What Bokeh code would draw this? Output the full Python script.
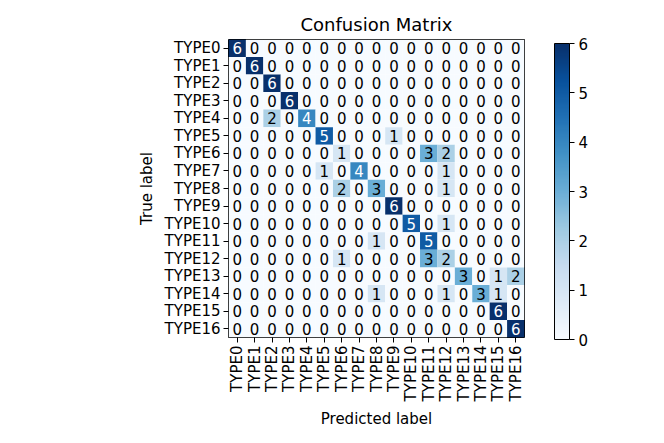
import math
from bokeh.plotting import figure
from bokeh.models import (Range1d, FixedTicker, LinearColorMapper, ColorBar,
                          ColumnDataSource)
from bokeh.palettes import Blues256
from bokeh.core.properties import value
from bokeh.embed import file_html
from bokeh.resources import INLINE

labels = ["TYPE%d" % i for i in range(17)]

row0 = [6, 0, 0, 0, 0, 0, 0, 0, 0, 0, 0, 0, 0, 0, 0, 0, 0]
row1 = [0, 6, 0, 0, 0, 0, 0, 0, 0, 0, 0, 0, 0, 0, 0, 0, 0]
row2 = [0, 0, 6, 0, 0, 0, 0, 0, 0, 0, 0, 0, 0, 0, 0, 0, 0]
row3 = [0, 0, 0, 6, 0, 0, 0, 0, 0, 0, 0, 0, 0, 0, 0, 0, 0]
row4 = [0, 0, 2, 0, 4, 0, 0, 0, 0, 0, 0, 0, 0, 0, 0, 0, 0]
row5 = [0, 0, 0, 0, 0, 5, 0, 0, 0, 1, 0, 0, 0, 0, 0, 0, 0]
row6 = [0, 0, 0, 0, 0, 0, 1, 0, 0, 0, 0, 3, 2, 0, 0, 0, 0]
row7 = [0, 0, 0, 0, 0, 1, 0, 4, 0, 0, 0, 0, 1, 0, 0, 0, 0]
row8 = [0, 0, 0, 0, 0, 0, 2, 0, 3, 0, 0, 0, 1, 0, 0, 0, 0]
row9 = [0, 0, 0, 0, 0, 0, 0, 0, 0, 6, 0, 0, 0, 0, 0, 0, 0]
row10 = [0, 0, 0, 0, 0, 0, 0, 0, 0, 0, 5, 0, 1, 0, 0, 0, 0]
row11 = [0, 0, 0, 0, 0, 0, 0, 0, 1, 0, 0, 5, 0, 0, 0, 0, 0]
row12 = [0, 0, 0, 0, 0, 0, 1, 0, 0, 0, 0, 3, 2, 0, 0, 0, 0]
row13 = [0, 0, 0, 0, 0, 0, 0, 0, 0, 0, 0, 0, 0, 3, 0, 1, 2]
row14 = [0, 0, 0, 0, 0, 0, 0, 0, 1, 0, 0, 0, 1, 0, 3, 1, 0]
row15 = [0, 0, 0, 0, 0, 0, 0, 0, 0, 0, 0, 0, 0, 0, 0, 6, 0]
row16 = [0, 0, 0, 0, 0, 0, 0, 0, 0, 0, 0, 0, 0, 0, 0, 0, 6]
matrix = [row0, row1, row2, row3, row4, row5, row6, row7, row8, row9,
          row10, row11, row12, row13, row14, row15, row16]

cbar_ticks = [0, 1, 2, 3, 4, 5, 6]

FONT = "DejaVu Sans"
FS = "15px"
vmax = max(max(r) for r in matrix)
thresh = vmax / 2.0

xs, ys, vals, txt, tcol = [], [], [], [], []
for i, r in enumerate(matrix):
    for j, v in enumerate(r):
        xs.append(j)
        ys.append(i)
        vals.append(v)
        txt.append(str(v))
        tcol.append("white" if v > thresh else "black")
src = ColumnDataSource(dict(x=xs, y=ys, v=vals, t=txt, c=tcol))

mapper = LinearColorMapper(palette=list(Blues256[::-1]), low=0, high=vmax)

n = len(labels)
p = figure(output_backend="svg", toolbar_location=None,
           frame_width=296, frame_height=298,
           x_range=Range1d(-0.5, n - 0.5), y_range=Range1d(n - 0.5, -0.5),
           min_border_left=228, min_border_top=39, min_border_right=100,
           min_border_bottom=95, title="Confusion Matrix")
p.rect(x="x", y="y", width=1, height=1, source=src,
       fill_color={"field": "v", "transform": mapper}, line_color=None)
p.text(x="x", y="y", text="t", source=src, text_color="c",
       text_align="center", text_baseline="middle",
       text_font=value(FONT), text_font_size=FS)

p.title.align = "center"
p.title.text_font = FONT
p.title.text_font_size = "18px"
p.title.text_font_style = "normal"
p.title.text_color = "black"

p.xgrid.visible = False
p.ygrid.visible = False
p.outline_line_color = "black"
p.outline_line_width = 1

for ax in (p.xaxis[0], p.yaxis[0]):
    ax.ticker = FixedTicker(ticks=list(range(n)))
    ax.major_label_overrides = {i: labels[i] for i in range(n)}
    ax.minor_tick_line_color = None
    ax.major_tick_in = 0
    ax.major_tick_out = 5
    ax.major_tick_line_color = "black"
    ax.axis_line_color = None
    ax.major_label_text_font = FONT
    ax.major_label_text_font_size = FS
    ax.major_label_text_color = "black"
    ax.axis_label_text_font = FONT
    ax.axis_label_text_font_size = FS
    ax.axis_label_text_font_style = "normal"
    ax.axis_label_text_color = "black"
    ax.major_label_standoff = 3
p.xaxis[0].major_label_orientation = math.pi / 2
p.xaxis[0].axis_label = "Predicted label"
p.yaxis[0].axis_label = "True label"
p.xaxis[0].axis_label_standoff = 6
p.yaxis[0].axis_label_standoff = 6

cb = ColorBar(color_mapper=mapper, width=15, height=296,
              ticker=FixedTicker(ticks=cbar_ticks),
              padding=0, background_fill_alpha=0,
              bar_line_color="black", major_tick_in=0, major_tick_out=5,
              major_tick_line_color="black", minor_tick_line_color=None,
              major_label_text_font=FONT, major_label_text_font_size=FS,
              major_label_text_color="black",
              label_standoff=4, location=(30, -2))
p.add_layout(cb, "right")

open("out.html", "w").write(file_html(p, INLINE))
